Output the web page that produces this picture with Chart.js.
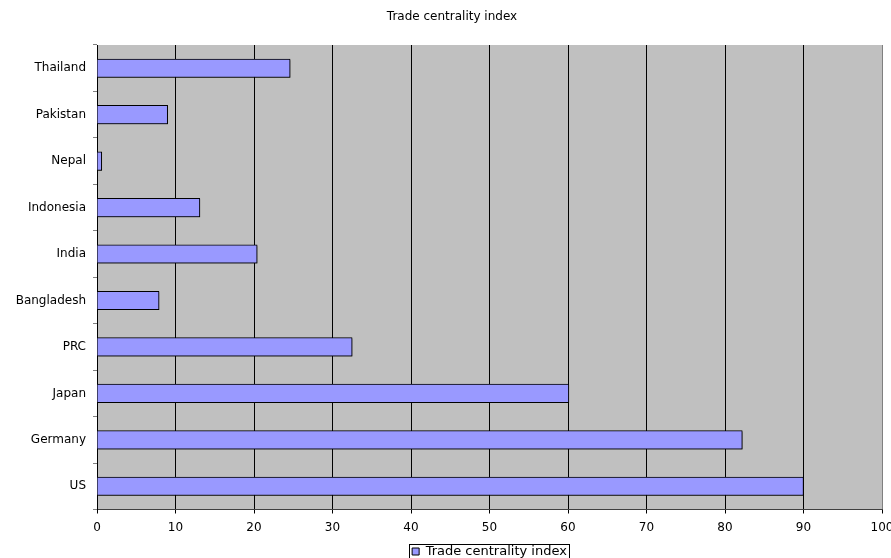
<!DOCTYPE html>
<html>
<head>
<meta charset="utf-8">
<script src="https://cdn.jsdelivr.net/npm/chart.js@4/dist/chart.umd.min.js"></script>
<style>
  html, body { margin: 0; padding: 0; background: #fff; }
  #wrap { width: 891px; height: 558px; }
</style>
</head>
<body>
<div id="wrap"><canvas id="c" width="891" height="558"></canvas></div>
<script>
const chartTitle = "Trade centrality index";
const seriesName = "Trade centrality index";
const categories = ["Thailand", "Pakistan", "Nepal", "Indonesia", "India", "Bangladesh", "PRC", "Japan", "Germany", "US"];
const values = [24.6, 9.0, 0.6, 13.1, 20.4, 7.9, 32.5, 60.1, 82.2, 90.0];
const xTicks = [0, 10, 20, 30, 40, 50, 60, 70, 80, 90, 100];

const FONT = "'DejaVu Sans', sans-serif";

const plotBg = {
  id: 'plotBg',
  beforeDraw(chart) {
    const { ctx, chartArea: a } = chart;
    ctx.save();
    ctx.fillStyle = '#C0C0C0';
    ctx.fillRect(a.left, a.top, a.right - a.left, a.bottom - a.top);
    ctx.restore();
  }
};
const barShadow = {
  id: 'barShadow',
  beforeDatasetsDraw(chart) {
    const ctx = chart.ctx;
    ctx.save();
    ctx.shadowColor = 'rgba(0,0,0,0.35)';
    ctx.shadowOffsetX = 1;
    ctx.shadowOffsetY = 1;
    ctx.shadowBlur = 0;
  },
  afterDatasetsDraw(chart) { chart.ctx.restore(); }
};
const shiftTitle = {
  id: 'shiftTitle',
  afterLayout(chart) {
    if (chart.titleBlock) { chart.titleBlock.left += 11; chart.titleBlock.right += 11; }
  }
};
const legendBorder = {
  id: 'legendBorder',
  afterDraw(chart) {
    const lg = chart.legend;
    if (!lg || !lg.legendHitBoxes || !lg.legendHitBoxes.length) return;
    const hb = lg.legendHitBoxes[0];
    const ctx = chart.ctx;
    ctx.save();
    ctx.strokeStyle = '#000';
    ctx.lineWidth = 1;
    const x0 = Math.round(hb.left) - 2.5;
    const x1 = Math.round(hb.left + hb.width) + 2.5;
    const cy = Math.round(hb.top + hb.height / 2);
    ctx.strokeRect(x0, cy - 7.5, x1 - x0, 14);
    ctx.restore();
  }
};

new Chart(document.getElementById('c'), {
  type: 'bar',
  data: {
    labels: categories,
    datasets: [{
      label: seriesName,
      data: values,
      backgroundColor: '#9999FF',
      borderColor: '#000000',
      borderWidth: 1,
      barThickness: 18.5
    }]
  },
  options: {
    indexAxis: 'y',
    responsive: false,
    animation: false,
    devicePixelRatio: 1,
    layout: { padding: { left: 0, right: 9, top: 0, bottom: -10 } },
    scales: {
      x: {
        min: 0, max: 100,
        afterBuildTicks(scale) { scale.ticks = xTicks.map(v => ({ value: v })); },
        afterFit(scale) { scale.height = 34; scale.paddingLeft = 0; scale.paddingRight = 0; },
        ticks: { font: { family: FONT, size: 12 }, color: '#000', padding: 7, maxRotation: 0, autoSkip: false },
        grid: {
          color: (c) => (c.tick && c.tick.value === 100) ? '#808080' : '#000000',
          lineWidth: 1,
          drawTicks: true,
          tickLength: 4,
          tickColor: '#000'
        },
        border: { color: '#404040', width: 1 }
      },
      y: {
        afterFit(scale) { scale.width = 97; },
        ticks: { font: { family: FONT, size: 12 }, color: '#000', padding: 7 },
        grid: { offset: true, drawOnChartArea: false, drawTicks: true, tickLength: 4, color: '#808080' },
        border: { color: '#000', width: 1 }
      }
    },
    plugins: {
      title: {
        display: true,
        text: chartTitle,
        color: '#000',
        font: { family: FONT, size: 12, weight: 'normal' },
        padding: { top: 10, bottom: 20.6 }
      },
      legend: {
        display: true,
        position: 'bottom',
        fullSize: false,
        labels: {
          font: { family: FONT, size: 13 },
          color: '#000',
          boxWidth: 7,
          boxHeight: 7,
          padding: 1.5
        }
      },
      tooltip: { enabled: false }
    }
  },
  plugins: [plotBg, barShadow, shiftTitle, legendBorder]
});
</script>
</body>
</html>
